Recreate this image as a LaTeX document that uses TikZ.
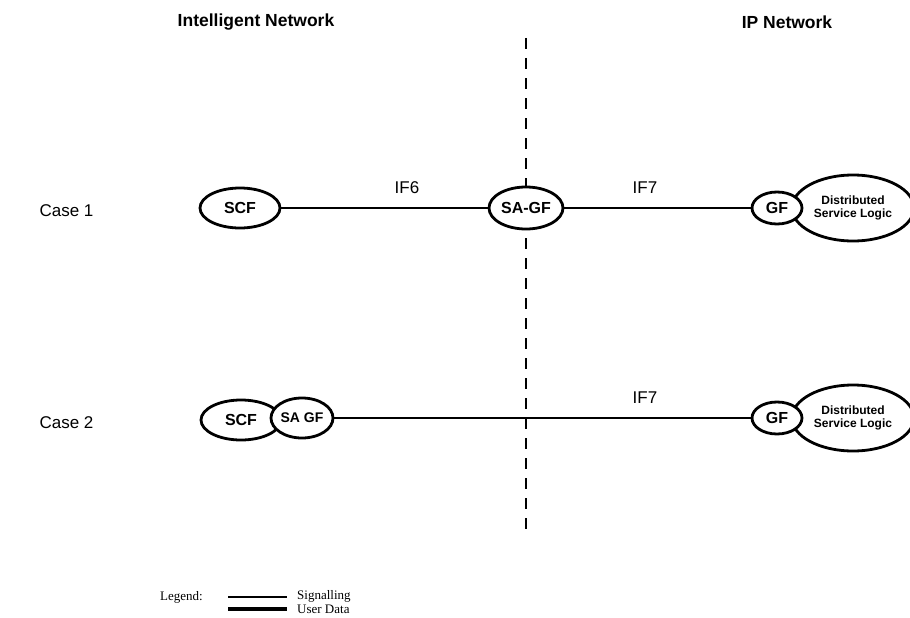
\documentclass[tikz,border=0pt]{standalone}
\usepackage{fontspec}
\setmainfont{Liberation Sans}
\newfontfamily\legfont{Liberation Serif}
\usetikzlibrary{shapes.geometric}
\begin{document}
\begin{tikzpicture}[x=1pt,y=-1pt,
  fn/.style={ellipse,draw,line width=2.8pt,inner sep=0pt,fill=white,
    font=\fontsize{16}{18}\selectfont\bfseries},
  dsl/.style={fn,font=\fontsize{12}{13.5}\selectfont\bfseries,align=center,
    minimum width=122pt,minimum height=66pt},
  link/.style={line width=2.8pt},
  lbl/.style={font=\fontsize{17}{19}\selectfont},
  ttl/.style={font=\fontsize{17.5}{20}\selectfont\bfseries},
  leg/.style={font=\legfont\fontsize{13}{15}\selectfont,anchor=west,inner sep=0pt}]
\useasboundingbox (0,0) rectangle (910,618);
% titles
\node[ttl] (tin) at (256,22) {Intelligent Network};
\node[ttl] (tip) at (787,22) {IP Network};
% divider
\coordinate (dtop) at (526,38);
\coordinate (dbot) at (526,531);
\draw[line width=2.8pt,dash pattern=on 11pt off 9pt] (dtop) -- (dbot);
% case 1
\node[lbl,anchor=west] (c1) at (36,211) {Case 1};
\node[fn,minimum width=80pt,minimum height=40pt] (scf1) at (240,208) {SCF};
\node[fn,minimum width=74pt,minimum height=42pt] (sagf) at (526,208) {SA-GF};
\node[dsl] (dsl1) at (853,208) {Distributed\\Service Logic};
\node[fn,minimum width=50pt,minimum height=32pt] (gf1) at (777,208) {GF};
\draw[link] (scf1) -- (sagf);
\draw[link] (sagf) -- (gf1);
\node[lbl] (if6) at (407,188) {IF6};
\node[lbl] (if7a) at (645,188) {IF7};
% case 2
\node[lbl,anchor=west] (c2) at (36,423) {Case 2};
\node[fn,minimum width=80pt,minimum height=40pt] (scf2) at (241,420) {SCF};
\node[fn,minimum width=62pt,minimum height=40pt,font=\fontsize{14}{16}\selectfont\bfseries] (sagf2) at (302,418) {SA GF};
\node[dsl] (dsl2) at (853,418) {Distributed\\Service Logic};
\node[fn,minimum width=50pt,minimum height=32pt] (gf2) at (777,418) {GF};
\draw[link] (sagf2) -- (gf2);
\node[lbl] (if7b) at (645,398) {IF7};
% legend
\node[leg] (legt) at (160,597) {Legend:};
\coordinate (s1) at (228,597);
\coordinate (s2) at (287,597);
\coordinate (u1) at (228,609);
\coordinate (u2) at (287,609);
\draw[line width=2.8pt] (s1) -- (s2);
\draw[line width=4.8pt] (u1) -- (u2);
\node[leg] (legs) at (297,596) {Signalling};
\node[leg] (legu) at (297,609) {User Data};
\end{tikzpicture}
\end{document}
